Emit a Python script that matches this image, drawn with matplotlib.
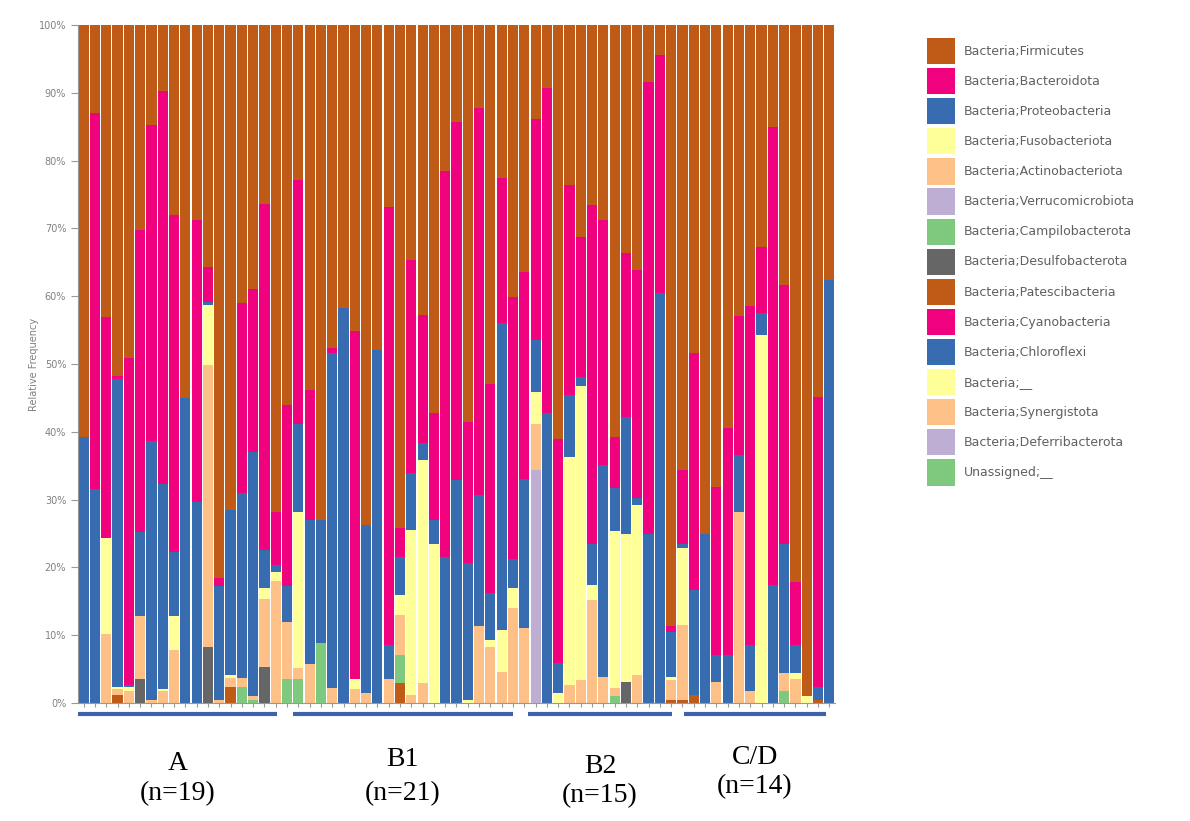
import matplotlib
matplotlib.use("Agg")
from matplotlib import pyplot as plt
from matplotlib.patches import Patch
import numpy as np

taxa = ["Bacteria;Firmicutes", "Bacteria;Bacteroidota", "Bacteria;Proteobacteria",
        "Bacteria;Fusobacteriota", "Bacteria;Actinobacteriota", "Bacteria;Verrucomicrobiota",
        "Bacteria;Campilobacterota", "Bacteria;Desulfobacterota", "Bacteria;Patescibacteria",
        "Bacteria;Cyanobacteria", "Bacteria;Chloroflexi", "Bacteria;__",
        "Bacteria;Synergistota", "Bacteria;Deferribacterota", "Unassigned;__"]
taxa_colors = ["#bf5b17", "#f0027f", "#386cb0", "#ffff99", "#fdc086", "#beaed4",
               "#7fc97f", "#666666", "#bf5b17", "#f0027f", "#386cb0", "#ffff99",
               "#fdc086", "#beaed4", "#7fc97f"]

# relative frequency (%) per sample, 67 samples
patescibacteria = [0, 0, 0, 1.2, 0, 0, 0, 0, 0, 0, 0, 0, 0, 2.3, 0, 0, 0, 0, 0,
                   0, 0, 0, 0, 0, 0, 0, 0, 0, 2.9, 0, 0, 0, 0, 0, 0, 0, 0, 0, 0, 0,
                   0, 0, 0, 0, 0, 0, 0, 0, 0, 0, 0, 0, 0.5, 0.5, 1.2,
                   0, 0, 0, 0, 0, 0, 0, 0, 0, 0, 0.5, 0]
desulfobacterota = [0, 0, 0, 0, 0, 3.5, 0, 0, 0, 0, 0, 8.3, 0, 0, 0, 0, 5.3, 0, 0,
                    0, 0, 0, 0, 0, 0, 0, 0, 0, 0, 0, 0, 0, 0, 0, 0, 0, 0, 0, 0, 0,
                    0, 0, 0, 0, 0, 0, 0, 0, 3.1, 0, 0, 0, 0, 0, 0,
                    0, 0, 0, 0, 0, 0, 0, 0, 0, 0, 0, 0]
campilobacterota = [0, 0, 0, 0, 0, 0, 0, 0, 0, 0, 0, 0, 0, 0, 2.3, 0.5, 0, 0, 3.6,
                    3.6, 0, 8.8, 0, 0, 0, 0, 0, 0, 4.2, 0, 0, 0, 0, 0, 0, 0, 0, 0, 0, 0,
                    0, 0, 0, 0, 0, 0, 0, 1.0, 0, 0, 0, 0, 0, 0, 0,
                    0, 0, 0, 0, 0, 0, 0, 1.7, 0, 0, 0, 0]
verrucomicrobiota = [0] * 40 + [34.4] + [0] * 26
actinobacteriota = [0, 0, 10.2, 0.9, 1.8, 9.3, 0.5, 1.8, 7.8, 0, 0, 41.5, 0.5, 1.4, 1.4, 0.5, 10.0, 18.0, 8.4,
                    1.5, 5.8, 0, 2.2, 0, 2.0, 1.5, 0, 3.6, 5.9, 1.2, 2.9, 0, 0, 0, 0, 11.3, 8.3, 4.6, 14.0, 11.0,
                    6.8, 0, 0, 2.7, 3.4, 15.2, 3.9, 1.2, 0, 4.1, 0, 0, 2.9, 11.0, 0,
                    0, 3.1, 0, 28.2, 1.7, 0, 0, 2.7, 3.6, 0, 0, 0]
fusobacteriota = [0, 0, 14.1, 0.3, 0.5, 0, 0, 0.3, 5.0, 0, 0, 8.9, 0, 0.5, 0, 0, 1.7, 1.3, 0,
                  23.1, 0, 0, 0, 0, 1.6, 0, 0, 0, 2.9, 24.3, 32.9, 23.5, 0, 0, 0.5, 0, 1.0, 6.2, 2.9, 0,
                  4.7, 0, 1.5, 33.6, 43.3, 2.2, 0, 23.1, 21.9, 25.1, 0, 0, 0.5, 11.3, 0,
                  0, 0, 0, 0, 0, 54.3, 0, 0, 0.8, 1.0, 0, 0]
proteobacteria = [39.2, 31.6, 0, 45.4, 0.3, 12.4, 38.2, 30.2, 9.5, 45.0, 29.6, 0.5, 16.8, 24.3, 27.3, 36.0, 5.6, 1.0, 5.3,
                  13.0, 21.2, 18.2, 49.4, 58.2, 0, 24.8, 52.0, 5.0, 5.7, 8.4, 2.5, 3.5, 21.6, 32.9, 20.1, 19.4, 6.9, 45.2, 4.4, 22.1,
                  7.6, 42.7, 4.4, 9.1, 1.4, 6.1, 31.2, 6.4, 17.2, 1.0, 25.0, 60.4, 6.6, 0.7, 15.5,
                  25.0, 4.0, 7.1, 8.4, 6.9, 3.2, 17.4, 19.1, 4.2, 0, 1.9, 62.4]
bacteroidota = [0, 55.4, 32.7, 0.5, 48.3, 44.5, 46.6, 58.0, 49.7, 0, 41.6, 5.1, 1.2, 0, 28.0, 24.0, 51.0, 7.8, 26.7,
                35.9, 19.2, 0, 0.7, 0, 51.2, 0, 0, 64.6, 4.2, 31.4, 18.9, 15.7, 56.8, 52.8, 20.9, 57.0, 30.9, 21.4, 38.6, 30.5,
                32.7, 48.0, 33.1, 31.0, 20.7, 50.0, 36.1, 7.6, 24.1, 33.7, 66.6, 35.2, 0.8, 10.9, 34.9,
                0, 24.8, 33.4, 20.5, 49.9, 9.8, 67.6, 38.2, 9.3, 0, 42.8, 0]
firmicutes = [60.8, 13.0, 43.0, 51.7, 49.1, 30.3, 14.7, 9.7, 28.0, 55.0, 28.8, 35.7, 81.5, 71.5, 41.0, 39.0, 26.4, 71.9, 56.0,
              22.9, 53.8, 73.0, 47.7, 41.8, 45.2, 73.7, 48.0, 26.8, 74.2, 34.7, 42.8, 57.3, 21.6, 14.3, 58.5, 12.3, 52.9, 22.6, 40.1, 36.4,
              13.8, 9.3, 61.0, 23.6, 31.2, 26.5, 28.8, 60.7, 33.7, 36.1, 8.4, 4.4, 88.7, 65.6, 48.4,
              75.0, 68.1, 59.5, 42.9, 41.5, 32.7, 15.0, 38.3, 82.1, 99.0, 54.8, 37.6]

# stacked bottom to top
stack = [(patescibacteria, 8), (desulfobacterota, 7), (campilobacterota, 6),
         (verrucomicrobiota, 5), (actinobacteriota, 4), (fusobacteriota, 3),
         (proteobacteria, 2), (bacteroidota, 1), (firmicutes, 0)]

group_names = ["A", "B1", "B2", "C/D"]
group_counts = ["(n=19)", "(n=21)", "(n=15)", "(n=14)"]
group_spans = [(-0.5, 17.1), (18.5, 38.0), (39.3, 52.1), (53.1, 65.7)]
# label heights in axes fraction (name, count)
group_label_y = [(-0.0885, -0.133), (-0.084, -0.133), (-0.094, -0.136), (-0.080, -0.124)]

fig = plt.figure(figsize=(11.9, 8.21), dpi=100)
ax = fig.add_axes([78 / 1190, 1 - 703 / 821, (835 - 78) / 1190, (703 - 25) / 821])

x = np.arange(len(firmicutes))
bottom = np.zeros(len(x))
for values, idx in stack:
    v = np.array(values, dtype=float)
    ax.bar(x, v, width=0.9, bottom=bottom, color=taxa_colors[idx], linewidth=0)
    bottom += v

ax.set_xlim(-0.5, len(x) - 0.5)
ax.set_ylim(0, 100)
ax.set_yticks(np.arange(0, 101, 10))
ax.set_yticklabels([f"{t}%" for t in range(0, 101, 10)], fontsize=7, color="#808080")
ax.set_xticks(x)
ax.set_xticklabels([])
ax.tick_params(axis="x", length=3, color="#999999")
ax.tick_params(axis="y", length=5, color="#999999")
for s in ["top", "right"]:
    ax.spines[s].set_visible(False)
for s in ["left", "bottom"]:
    ax.spines[s].set_color("#999999")
ax.set_ylabel("Relative Frequency", fontsize=7, color="#808080")
ax.yaxis.set_label_coords(-0.052, 0.5)

# group bars under the axis
trans = ax.get_xaxis_transform()
for (x0, x1), name, count, (y1, y2) in zip(group_spans, group_names, group_counts, group_label_y):
    ax.plot([x0, x1], [-0.016, -0.016], color="#3d64a8", linewidth=3,
            transform=trans, clip_on=False, solid_capstyle="butt")
    xc = (x0 + x1) / 2
    ax.text(xc, y1, name, transform=trans, ha="center", va="center",
            fontsize=20, family="Liberation Serif")
    ax.text(xc, y2, count, transform=trans, ha="center", va="center",
            fontsize=20, family="Liberation Serif")

handles = [Patch(facecolor=c, edgecolor="none") for c in taxa_colors]
leg = fig.legend(handles, taxa, loc="upper left", bbox_to_anchor=(927 / 1190, 1 - 38 / 821),
                 frameon=False, fontsize=9, handlelength=2.2, handleheight=2.85,
                 labelspacing=0.31, handletextpad=0.75, borderpad=0, borderaxespad=0)
for t in leg.get_texts():
    t.set_color("#606060")

fig.savefig("out.png", dpi=100)
